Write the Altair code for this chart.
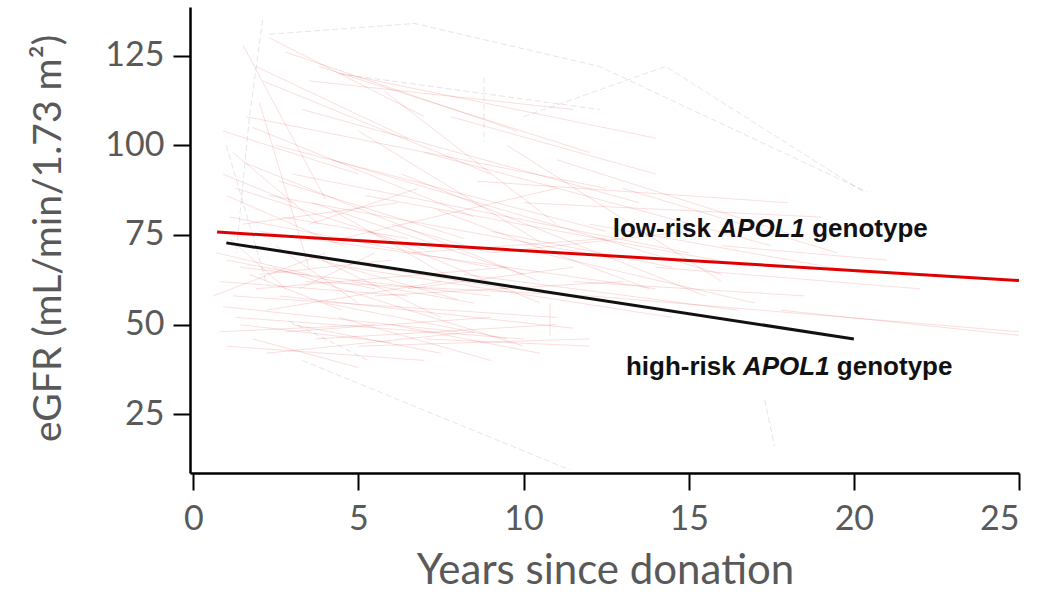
import altair as alt
import pandas as pd

# Axis ticks
YEAR_TICKS = [0, 5, 10, 15, 20, 25]
EGFR_TICKS = [25, 50, 75, 100, 125]

# Individual donor eGFR trajectories: (years since donation, eGFR)
donor_paths_red = [
    [(0.8, 62), (6.5, 58)], [(0.9, 55), (8.0, 48)], [(1.0, 68), (5.5, 60)],
    [(1.1, 80), (9.0, 66)], [(1.2, 58), (11.0, 52)], [(1.3, 88), (7.0, 71)],
    [(1.4, 50), (6.0, 45)], [(1.5, 72), (12.0, 57)], [(1.6, 95), (10.5, 62)],
    [(1.7, 64), (4.5, 54)], [(1.8, 105), (8.5, 80)], [(1.9, 60), (9.5, 66)],
    [(2.0, 76), (14.0, 60)], [(2.1, 118), (9.0, 92)], [(2.2, 54), (7.5, 62)],
    [(2.3, 86), (13.0, 68)], [(2.4, 66), (10.0, 44)], [(2.5, 100), (12.5, 76)],
    [(2.6, 58), (11.5, 49)], [(2.7, 80), (6.5, 74)], [(2.8, 48), (9.0, 52)],
    [(3.0, 92), (15.0, 70)], [(3.1, 70), (8.0, 57)], [(3.3, 110), (13.5, 84)],
    [(3.4, 62), (12.0, 58)], [(3.6, 84), (10.0, 64)], [(3.8, 122), (12.0, 98)],
    [(4.0, 56), (9.5, 46)], [(4.2, 96), (16.0, 64)], [(4.5, 74), (11.0, 88)],
    [(4.7, 66), (14.5, 52)], [(5.0, 104), (10.5, 73)], [(5.2, 86), (17.0, 66)],
    [(5.5, 58), (13.0, 62)], [(5.8, 115), (11.0, 78)], [(6.0, 78), (9.0, 70)],
    [(6.3, 92), (15.5, 58)], [(6.6, 70), (12.5, 74)], [(7.0, 98), (17.5, 72)],
    [(7.4, 82), (13.8, 60)], [(7.8, 108), (14.0, 92)], [(8.2, 64), (16.5, 54)],
    [(8.6, 90), (18.0, 84)], [(9.0, 76), (14.5, 66)], [(9.5, 100), (16.0, 62)],
    [(10.0, 84), (19.0, 80)], [(10.5, 70), (17.0, 56)], [(11.0, 96), (18.5, 74)],
    [(12.0, 78), (20.5, 64)], [(13.0, 88), (19.5, 70)],
    [(1.5, 128), (4.0, 85)], [(1.9, 122), (6.5, 102)], [(2.0, 112), (3.5, 66)],
    [(2.3, 130), (7.0, 108)], [(1.2, 98), (3.8, 78)], [(2.8, 126), (9.8, 104)],
    [(0.9, 104), (5.0, 92)], [(3.5, 118), (11.5, 110)], [(4.5, 120), (14.0, 102)],
    [(1.6, 108), (12.5, 88)],
    [(0.8, 48), (5.5, 50)], [(1.0, 44), (7.0, 40)], [(1.3, 52), (10.0, 46)],
    [(1.8, 46), (5.0, 38)], [(2.2, 42), (8.5, 48)], [(3.0, 50), (7.5, 42)],
    [(3.7, 46), (11.0, 50)], [(4.4, 52), (9.0, 40)], [(5.0, 44), (12.0, 46)],
    [(6.0, 50), (10.5, 42)], [(7.0, 46), (12.0, 44)], [(0.7, 70), (3.5, 64)],
    [(0.6, 58), (4.0, 70)], [(1.1, 74), (2.8, 60)], [(1.4, 66), (9.0, 58)],
    [(2.0, 64), (6.0, 68)], [(2.5, 72), (5.0, 56)], [(3.2, 60), (5.5, 70)],
    [(3.9, 68), (7.5, 52)], [(4.8, 62), (8.5, 56)], [(5.5, 66), (9.5, 60)],
    [(6.5, 60), (11.5, 66)], [(1.0, 86), (4.5, 72)], [(1.5, 78), (6.2, 84)],
    [(2.6, 90), (8.2, 74)], [(3.5, 78), (6.8, 88)], [(4.2, 82), (8.0, 62)],
    [(5.3, 76), (10.5, 56)], [(0.9, 92), (3.0, 84)], [(10.8, 56), (10.8, 47)],
    [(12.0, 58), (25.0, 48)], [(14.0, 66), (22.0, 60)], [(16.0, 72), (21.0, 68)],
    [(17.8, 54), (25.0, 47)], [(11.5, 62), (18.5, 58)], [(9.0, 70), (15.0, 76)],
]

donor_paths_grey = [
    [(2.1, 135), (1.7, 108), (1.3, 70)],
    [(2.3, 131), (6.7, 134), (12.3, 122), (20.4, 87)],
    [(10.0, 108), (14.3, 122), (20.3, 87)],
    [(3.3, 40), (11.4, 9.5)],
    [(17.3, 29), (17.6, 16)],
    [(2.9, 51), (5.3, 40)],
    [(4.4, 120), (12.3, 110)],
    [(8.8, 119), (8.8, 101)],
    [(1.0, 100), (2.2, 62)],
]

# Fitted mean trajectories by APOL1 genotype
low_risk_years = [0.72, 25.0]
low_risk_egfr = [75.8, 62.3]
high_risk_years = [1.0, 20.0]
high_risk_egfr = [72.8, 46.0]

# Label pieces: (text, italic); a space follows each piece
low_label_parts = [("low-risk", False), ("APOL1", True), ("genotype", False)]
high_label_parts = [("high-risk", False), ("APOL1", True), ("genotype", False)]
low_label_pos = (12.7, 74.5)
high_label_pos = (13.1, 36.0)

LABEL_SIZE = 26
# Arial/Liberation Sans Bold advance widths (per 1000 em)
ARIAL_BOLD = {
    " ": 278, "-": 333, "A": 722, "P": 667, "O": 778, "L": 611, "1": 556,
    "e": 556, "g": 611, "h": 611, "i": 278, "k": 556, "l": 278, "n": 611,
    "o": 611, "p": 611, "r": 389, "s": 556, "t": 333, "w": 778, "y": 556,
}


def text_width(s, size):
    return sum(ARIAL_BOLD[c] for c in s) / 1000 * size


def paths_frame(paths, prefix):
    rows = []
    for i, path in enumerate(paths):
        for order, (x, y) in enumerate(path):
            rows.append({"id": f"{prefix}{i}", "order": order, "years": x, "egfr": y})
    return pd.DataFrame(rows)


red_df = paths_frame(donor_paths_red, "r")
grey_df = paths_frame(donor_paths_grey, "g")
fit_df = pd.DataFrame(
    [{"group": "low", "years": x, "egfr": y} for x, y in zip(low_risk_years, low_risk_egfr)]
    + [{"group": "high", "years": x, "egfr": y} for x, y in zip(high_risk_years, high_risk_egfr)]
)

x_scale = alt.Scale(domain=[-0.1, 25], nice=False, zero=False)
y_scale = alt.Scale(domain=[8.6, 138.6], nice=False, zero=False)

FONT = "Lato"
GREY_TEXT = "#595959"

x_enc = alt.X(
    "years:Q",
    scale=x_scale,
    axis=alt.Axis(
        values=YEAR_TICKS,
        title="Years since donation",
        titleX=415,
        titleY=110,
        titleBaseline="alphabetic",
        titleAlign="center",
        titleFontSize=42,
        labelPadding=12,
    ),
)
y_enc = alt.Y(
    "egfr:Q",
    scale=y_scale,
    axis=alt.Axis(
        values=EGFR_TICKS,
        title="eGFR (mL/min/1.73 m²)",
        titleAngle=270,
        titleX=-130,
        titleY=231,
        titleBaseline="alphabetic",
        titleAlign="center",
        titleFontSize=39,
        labelPadding=9,
    ),
)

red_lines = alt.Chart(red_df).mark_line(
    color="#e02020", strokeWidth=1, opacity=0.15
).encode(x=x_enc, y=y_enc, detail="id:N", order="order:Q")

grey_lines = alt.Chart(grey_df).mark_line(
    color="#8a8a8a", strokeWidth=1, opacity=0.22, strokeDash=[6, 3]
).encode(x="years:Q", y="egfr:Q", detail="id:N", order="order:Q")

low_line = alt.Chart(fit_df).transform_filter(alt.datum.group == "low").mark_line(
    color="#e00000", strokeWidth=3
).encode(x="years:Q", y="egfr:Q")

high_line = alt.Chart(fit_df).transform_filter(alt.datum.group == "high").mark_line(
    color="#111111", strokeWidth=3
).encode(x="years:Q", y="egfr:Q")


def label_layers(parts, pos):
    layers = []
    offset = 0.0
    df = pd.DataFrame([{"years": pos[0], "egfr": pos[1]}])
    for text, italic in parts:
        kwargs = dict(
            text=text,
            align="left",
            baseline="alphabetic",
            dx=round(offset, 1),
            font="Liberation Sans",
            fontSize=LABEL_SIZE,
            fontWeight="bold",
            color="#111111",
        )
        if italic:
            kwargs["fontStyle"] = "italic"
        layers.append(
            alt.Chart(df).mark_text(**kwargs).encode(x="years:Q", y="egfr:Q")
        )
        offset += text_width(text + " ", LABEL_SIZE)
    return layers


chart = alt.layer(
    red_lines,
    grey_lines,
    low_line,
    high_line,
    *label_layers(low_label_parts, low_label_pos),
    *label_layers(high_label_parts, high_label_pos),
).properties(
    width=829,
    height=466,
    autosize=alt.AutoSizeParams(type="none"),
    padding={"left": 190, "top": 7, "right": 24, "bottom": 125},
    background="white",
).configure_view(
    stroke=None
).configure_axis(
    grid=False,
    domainColor="black",
    domainWidth=2.5,
    tickColor="black",
    tickWidth=2,
    tickSize=17,
    labelFont=FONT,
    labelFontSize=34,
    labelColor=GREY_TEXT,
    titleFont=FONT,
    titleFontWeight="normal",
    titleColor=GREY_TEXT,
)

chart.save("out.html", embed_options={"renderer": "svg", "actions": False})
